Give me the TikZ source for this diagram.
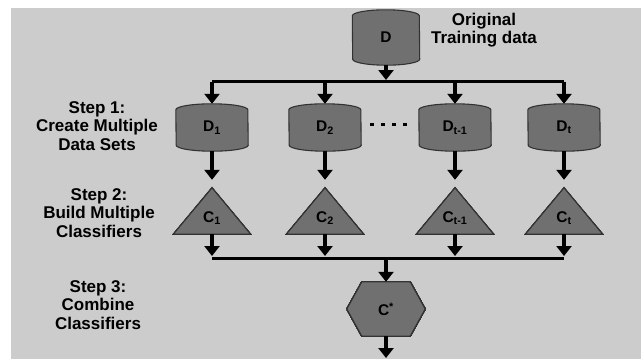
\documentclass[tikz,border=0pt]{standalone}
\usepackage{fontspec}
\setmainfont{Liberation Sans}
\usetikzlibrary{%
	calc,%
	arrows.meta,%
	backgrounds
}

\definecolor{panel}{RGB}{204,204,204}
\definecolor{shapefill}{RGB}{112,112,112}
\definecolor{shapeline}{RGB}{50,50,50}

\tikzset{
	steptext/.style={align=center, font=\bfseries\fontsize{17}{18.5}\selectfont},
	inlabel/.style={font=\bfseries\fontsize{15.5}{17}\selectfont},
	drum/.style={inlabel, inner sep=0pt, minimum width=72pt, minimum height=47pt},
	cone/.style={inlabel, inner sep=0pt, minimum width=77pt, minimum height=46pt,
		text height=24pt, text depth=2pt},
	hexa/.style={inlabel, inner sep=0pt, minimum width=78pt, minimum height=54pt},
	shapebody/.style={fill=shapefill, draw=shapeline, line width=1.1pt},
	flow/.style={line width=4.5pt, -{Triangle[width=15pt,length=10pt]}},
	bar/.style={line width=3pt, line cap=square}
}

% barrel shaped data set round a node: #1 node, #2 half width
\newcommand{\drumpath}[2]{%
	\filldraw[shapebody] ($(#1.north west)+(0,6)$)
		arc[start angle=180, end angle=0, x radius=#2pt, y radius=6pt]
		-- ($(#1.south east)+(0,-6)$)
		arc[start angle=0, end angle=-180, x radius=#2pt, y radius=6pt] -- cycle;}
\newcommand{\conepath}[1]{%
	\filldraw[shapebody] (#1.north) -- (#1.south east) -- (#1.south west) -- cycle;}

\begin{document}
\begin{tikzpicture}[x=1pt,y=-1pt]
	\useasboundingbox (0,0) rectangle (644,359);

	% Data
	\node[drum, minimum width=67pt, minimum height=55pt] (d) at (386,37.5) {D};
	\node[steptext] (orig) at (484,30) {Original\\Training data};

	% Step 1
	\node[steptext] (s1) at (97,126) {Step 1:\\Create Multiple\\Data Sets};
	\node[drum] (d1) at (212,127.5) {D\textsubscript{1}};
	\node[drum] (d2) at (325,127.5) {D\textsubscript{2}};
	\node[drum] (dtm) at (455,127.5) {D\textsubscript{t-1}};
	\node[drum] (dt) at (564,127.5) {D\textsubscript{t}};
	\foreach \x in {372,383,394,405}
		\fill (\x-1.75,122.75) rectangle (\x+1.75,126.25);

	% Step 2
	\node[steptext] (s2) at (99,213) {Step 2:\\Build Multiple\\Classifiers};
	\node[cone] (c1) at (212,211) {C\textsubscript{1}};
	\node[cone] (c2) at (325,211) {C\textsubscript{2}};
	\node[cone] (ctm) at (455,211) {C\textsubscript{t-1}};
	\node[cone] (ct) at (564,211) {C\textsubscript{t}};

	% Step 3
	\node[steptext] (s3) at (98,305) {Step 3:\\Combine\\Classifiers};
	\node[hexa] (cs) at (386,309) {C\textsuperscript{*}};

	% Shapes behind the labels
	\begin{scope}[on background layer]
		\fill[white] (0,0) rectangle (644,359);
		\fill[panel] (11,8) rectangle (641,359);
		\drumpath{d}{33.5}
		\foreach \n in {d1,d2,dtm,dt}
			\drumpath{\n}{36}
		\foreach \n in {c1,c2,ctm,ct}
			\conepath{\n}
		\filldraw[shapebody] (cs.west) -- ($(cs.north west)+(15,0)$)
			-- ($(cs.north east)+(-15,0)$) -- (cs.east)
			-- ($(cs.south east)+(-15,0)$) -- ($(cs.south west)+(15,0)$) -- cycle;
	\end{scope}

	% Arrows
	\coordinate (split) at (386,81.5);
	\coordinate (merge) at (386,258);
	\coordinate (out) at (386,358);
	\draw[flow, shorten >=1.5pt] (d.south) -- (split);
	\draw[bar] (split -| d1) -- (split -| dt);
	\foreach \n in {d1,d2,dtm,dt}
		\draw[flow] (\n |- split) -- (\n.north);
	\foreach \n/\c in {d1/c1,d2/c2,dtm/ctm,dt/ct}
		\draw[flow, shorten >=8pt] (\n.south) -- (\c.north);
	\foreach \c in {c1,c2,ctm,ct}
		\draw[flow, shorten >=2pt] (\c.south) -- (\c |- merge);
	\draw[bar] (merge -| c1) -- (merge -| ct);
	\draw[flow] (merge) -- (cs.north);
	\draw[flow] (cs.south) -- (out);
\end{tikzpicture}
\end{document}
